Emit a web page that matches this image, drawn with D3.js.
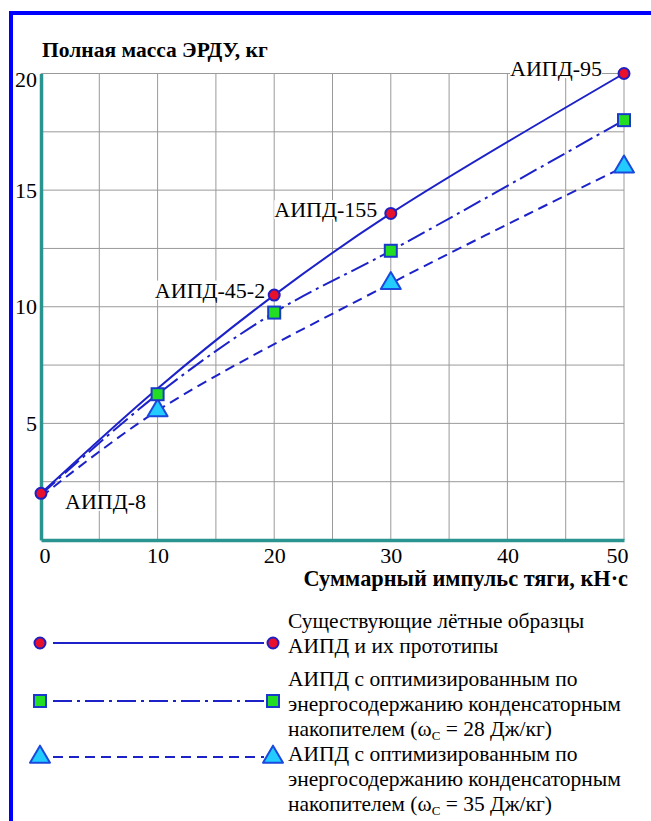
<!DOCTYPE html>
<html>
<head>
<meta charset="utf-8">
<script src="https://cdn.jsdelivr.net/npm/d3@7"></script>
<style>
  html, body { margin: 0; padding: 0; background: #ffffff; }
  svg { display: block; }
  svg text { font-family: "Liberation Serif", "Times New Roman", serif !important; fill: #000; }
</style>
</head>
<body>
<svg id="chart" width="651" height="821"></svg>
<script>
// ---- data ----
const xTicks = [0, 10, 20, 30, 40, 50];
const yTicks = [5, 10, 15, 20];

const existingX = [0, 10, 20, 30, 50];
const existingY = [2.0, 6.5, 10.5, 14.0, 20.0];
const existingMarked = [true, false, true, true, true];
const existingLabels = ["АИПД-8", "", "АИПД-45-2", "АИПД-155", "АИПД-95"];

const cap28X = [0, 10, 20, 30, 50];
const cap28Y = [1.95, 6.25, 9.75, 12.4, 18.0];
const cap28Marked = [false, true, true, true, true];

const cap35X = [0, 10, 30, 50];
const cap35Y = [1.85, 5.55, 11.0, 16.0];
const cap35Marked = [false, true, true, true];

const titleY = "Полная масса ЭРДУ, кг";
const titleX = "Суммарный импульс тяги, кН·с";
const legendTexts = [
  ["Существующие лётные образцы", "АИПД и их прототипы"],
  ["АИПД с оптимизированным по", "энергосодержанию конденсаторным", "накопителем (ω<sub>C</sub> = 28 Дж/кг)"],
  ["АИПД с оптимизированным по", "энергосодержанию конденсаторным", "накопителем (ω<sub>C</sub> = 35 Дж/кг)"]
];

// ---- layout ----
const svg = d3.select("#chart");
const x = d3.scaleLinear().domain([0, 50]).range([41, 624]);
const y = d3.scaleLinear().domain([0, 20]).range([540, 73.5]);

const lineBlue = "#1c22c8";
const gridCol = "#9a9a9a";
const axisCol = "#2a9590";
const serif = "'Liberation Serif', 'Times New Roman', serif";

// frame
svg.append("rect").attr("x", 11).attr("y", 13).attr("width", 700).attr("height", 900)
  .attr("fill", "none").attr("stroke", "#0000ff").attr("stroke-width", 4);

// grid
const gx = d3.range(0, 50.001, 5);
const gy = d3.range(2.5, 20.001, 2.5);
svg.append("g").selectAll("line").data(gx).join("line")
  .attr("x1", d => x(d)).attr("x2", d => x(d))
  .attr("y1", y(20)).attr("y2", y(0))
  .attr("stroke", gridCol).attr("stroke-width", 1);
svg.append("g").selectAll("line").data(gy).join("line")
  .attr("x1", x(0)).attr("x2", x(50))
  .attr("y1", d => y(d)).attr("y2", d => y(d))
  .attr("stroke", gridCol).attr("stroke-width", 1);

// axes
const xAxis = d3.axisBottom(x).tickValues(xTicks).tickSize(0).tickPadding(7);
const gxa = svg.append("g").attr("transform", `translate(0,${y(0)})`).call(xAxis)
  .attr("font-family", serif).attr("font-size", 22);
gxa.select(".domain").attr("stroke", axisCol).attr("stroke-width", 3.5);
gxa.selectAll("text").attr("font-size", 22).attr("dy", "0.71em")
  .attr("text-anchor", d => d === 0 ? "start" : d === 50 ? "end" : "middle")
  .attr("dx", d => d === 0 ? -2 : d === 50 ? 4 : 0);

const yAxis = d3.axisLeft(y).tickValues(yTicks).tickSize(0).tickPadding(4);
const gya = svg.append("g").attr("transform", `translate(${x(0)},0)`).call(yAxis)
  .attr("font-family", serif).attr("font-size", 22);
gya.select(".domain").attr("stroke", axisCol).attr("stroke-width", 3.5);
gya.selectAll("text").attr("font-size", 22)
  .attr("dy", d => d === 20 ? "0.6em" : "0.32em");

// titles
svg.append("text").attr("x", 42).attr("y", 57).attr("font-size", 21.5).attr("font-weight", "bold").text(titleY);
svg.append("text").attr("x", 628).attr("y", 586).attr("text-anchor", "end")
  .attr("font-size", 22.3).attr("font-weight", "bold").text(titleX);

// curves
const line = d3.line().x(d => x(d[0])).y(d => y(d[1])).curve(d3.curveCatmullRom.alpha(0.5));
const s1 = existingX.map((v, i) => [v, existingY[i], existingMarked[i], existingLabels[i]]);
const s2 = cap28X.map((v, i) => [v, cap28Y[i], cap28Marked[i]]);
const s3 = cap35X.map((v, i) => [v, cap35Y[i], cap35Marked[i]]);

svg.append("path").attr("d", line(s3)).attr("fill", "none").attr("stroke", lineBlue)
  .attr("stroke-width", 2).attr("stroke-dasharray", "10,6");
svg.append("path").attr("d", line(s2)).attr("fill", "none").attr("stroke", lineBlue)
  .attr("stroke-width", 2).attr("stroke-dasharray", "19,5,3,5");
svg.append("path").attr("d", line(s1)).attr("fill", "none").attr("stroke", lineBlue)
  .attr("stroke-width", 2);

// markers
function circleM(g, cx, cy) {
  g.append("circle").attr("cx", cx).attr("cy", cy).attr("r", 5.5)
    .attr("fill", "#e8102a").attr("stroke", "#2020c0").attr("stroke-width", 2);
}
function squareM(g, cx, cy) {
  g.append("rect").attr("x", cx - 6).attr("y", cy - 6).attr("width", 12).attr("height", 12)
    .attr("fill", "#22dd22").attr("stroke", "#1a3acc").attr("stroke-width", 2);
}
function triM(g, cx, cy) {
  const h = 17, w = 20;
  g.append("path").attr("d", `M${cx},${cy - h * 2 / 3}L${cx + w / 2},${cy + h / 3}L${cx - w / 2},${cy + h / 3}Z`)
    .attr("fill", "#22ccff").attr("stroke", "#1a4add").attr("stroke-width", 2).attr("stroke-linejoin", "round");
}

const mk = svg.append("g");
s3.filter(d => d[2]).forEach(d => triM(mk, x(d[0]), y(d[1])));
s2.filter(d => d[2]).forEach(d => squareM(mk, x(d[0]), y(d[1])));
s1.filter(d => d[2]).forEach(d => circleM(mk, x(d[0]), y(d[1])));

// point labels
const labelPos = {
  "АИПД-8": { dx: 24, dy: 15.5, anchor: "start" },
  "АИПД-45-2": { dx: -9, dy: 2.5, anchor: "end" },
  "АИПД-155": { dx: -13.5, dy: 3.7, anchor: "end" },
  "АИПД-95": { dx: -22, dy: 2.5, anchor: "end" }
};
const lg = svg.append("g");
s1.filter(d => d[3]).forEach(d => {
  const p = labelPos[d[3]];
  const t = lg.append("text").attr("x", x(d[0]) + p.dx).attr("y", y(d[1]) + p.dy)
    .attr("text-anchor", p.anchor).attr("font-size", 22).style("font-family", serif).text(d[3]);
  const bb = t.node().getBBox();
  lg.insert("rect", () => t.node()).attr("x", bb.x).attr("y", bb.y + 3).attr("width", bb.width)
    .attr("height", bb.height - 6).attr("fill", "#fff");
});

// legend
const leg = svg.append("g");
const legRows = [
  { y: 643, kind: "circle", dash: null, textY: [628, 653] },
  { y: 701, kind: "square", dash: "19,5,3,5", textY: [686, 711, 736] },
  { y: 757, kind: "tri", dash: "10,6", textY: [761, 786, 811] }
];
legRows.forEach((r, i) => {
  leg.append("line").attr("x1", 53).attr("x2", 264).attr("y1", r.y).attr("y2", r.y)
    .attr("stroke", lineBlue).attr("stroke-width", 2).attr("stroke-dasharray", r.dash);
  const f = r.kind === "circle" ? circleM : r.kind === "square" ? squareM : triM;
  f(leg, 40, r.y);
  f(leg, 273, r.y);
  legendTexts[i].forEach((ln, j) => {
    const t = leg.append("text").attr("x", 288).attr("y", r.textY[j]).attr("font-size", 21.5);
    const parts = ln.split(/<sub>|<\/sub>/);
    parts.forEach((p, k) => {
      const ts = t.append("tspan").text(p);
      if (k === 1) ts.attr("font-size", 13).attr("dy", 4);
      if (k === 2) ts.attr("dy", -4);
    });
  });
});

// make sure every text uses the serif face
svg.selectAll("text").style("font-family", serif);
</script>
</body>
</html>
